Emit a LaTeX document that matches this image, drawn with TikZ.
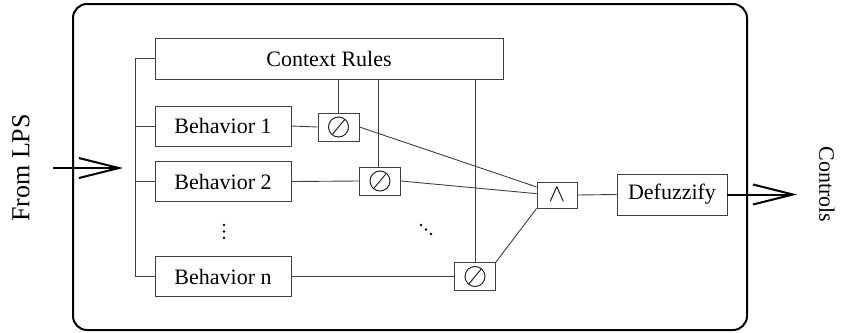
\documentclass[tikz,border=0pt]{standalone}
\usepackage{fontspec}
\setmainfont{Liberation Serif}
\newfontfamily\labelserif{Liberation Serif}
\usetikzlibrary{arrows.meta,calc}
\tikzset{
  wire/.style={draw=black!75, line width=0.9pt},
  block/.style={draw=black!75, line width=0.9pt, fill=white, inner sep=0pt,
    font=\labelserif\fontsize{22}{24}\selectfont},
  opbox/.style={block, minimum width=41pt, minimum height=28pt},
  divop/.style={opbox, path picture={
      \draw[black!85, line width=1pt] (path picture bounding box.center) circle (10pt);
      \draw[black!85, line width=1pt] ($(path picture bounding box.center)+(-6.4pt,-7.7pt)$)
        -- ($(path picture bounding box.center)+(6.4pt,7.7pt)$);}},
  bigarrow/.style={draw=black, line width=2pt, -{Straight Barb[length=40pt,width=20pt,line width=2pt]}},
  sidelabel/.style={font=\labelserif\fontsize{22}{24}\selectfont, inner sep=0pt},
  dot/.style={fill=black, draw=none},
}
\begin{document}
\begin{tikzpicture}[x=1pt,y=-1pt]
\useasboundingbox (0,0) rectangle (843,332);

% outer frame
\draw[line width=2pt, rounded corners=14pt] (73,4) rectangle (747,330);

% rule and behaviour blocks
\node[block, minimum width=348pt, minimum height=41pt] (ctx) at (329,58.5) {Context Rules};
\node[block, minimum width=136pt, minimum height=40pt] (b1) at (223,126) {Behavior 1};
\node[block, minimum width=136pt, minimum height=40pt] (b2) at (223,181.5) {Behavior 2};
\node[block, minimum width=136pt, minimum height=40pt] (bn) at (223,276.5) {Behavior n};

% weighting operators
\node[divop] (d1) at (338.5,127) {};
\node[divop] (d2) at (380,181) {};
\node[divop] (dn) at (475,276.5) {};

% fuzzy AND and defuzzifier
\node[block, minimum width=40pt, minimum height=26pt, font=\fontsize{28}{30}\selectfont] (and) at (557,195) {$\wedge$};
\node[block, minimum width=110pt, minimum height=41pt] (defz) at (672,194.5) {Defuzzify};

% input bus
\coordinate (bustop) at (135,58.5);
\coordinate (busbot) at (135,276.5);
\draw[wire] (ctx.west) -- (bustop) -- (busbot) -- (bn.west);
\draw[wire] (b1.west) -- (b1.west -| bustop);
\draw[wire] (b2.west) -- (b2.west -| bustop);

% behaviours into operators
\draw[wire] (b1.east) -- (d1.west);
\draw[wire] (b2.east) -- (d2.west);
\draw[wire] (bn.east) -- (dn.west);

% context rules into operators
\coordinate (d2tap) at (378,0);
\draw[wire] (d1.north) -- (d1.north |- ctx.south);
\draw[wire] (d2.north -| d2tap) -- (d2tap |- ctx.south);
\draw[wire] (dn.north) -- (dn.north |- ctx.south);

% operators into AND
\draw[wire] (d1.east) -- ($(and.north west)!0.2!(and.south west)$);
\draw[wire] (d2.east) -- ($(and.north west)!0.45!(and.south west)$);
\draw[wire] (dn.north east) -- (and.south west);
\draw[wire] (and.east) -- (defz.west);

% ellipses
\fill[dot] (224,225) circle (1.4pt) (224,231.5) circle (1.4pt) (224,238) circle (1.4pt);
\fill[dot] (421,225) circle (1.4pt) (426,229.5) circle (1.4pt) (431,234) circle (1.4pt);

% input and output arrows
\coordinate (lpsin) at (53,168);
\coordinate (lpstip) at (123,168);
\draw[bigarrow] (lpsin) -- (lpstip);
\coordinate (outtip) at (797,194.5);
\draw[bigarrow] (defz.east) -- (outtip);

\node[sidelabel, rotate=90, font=\labelserif\fontsize{26}{28}\selectfont] (lps) at (21,168) {From LPS};
\node[sidelabel, rotate=-90] (ctrl) at (827,184.5) {Controls};
\end{tikzpicture}
\end{document}
